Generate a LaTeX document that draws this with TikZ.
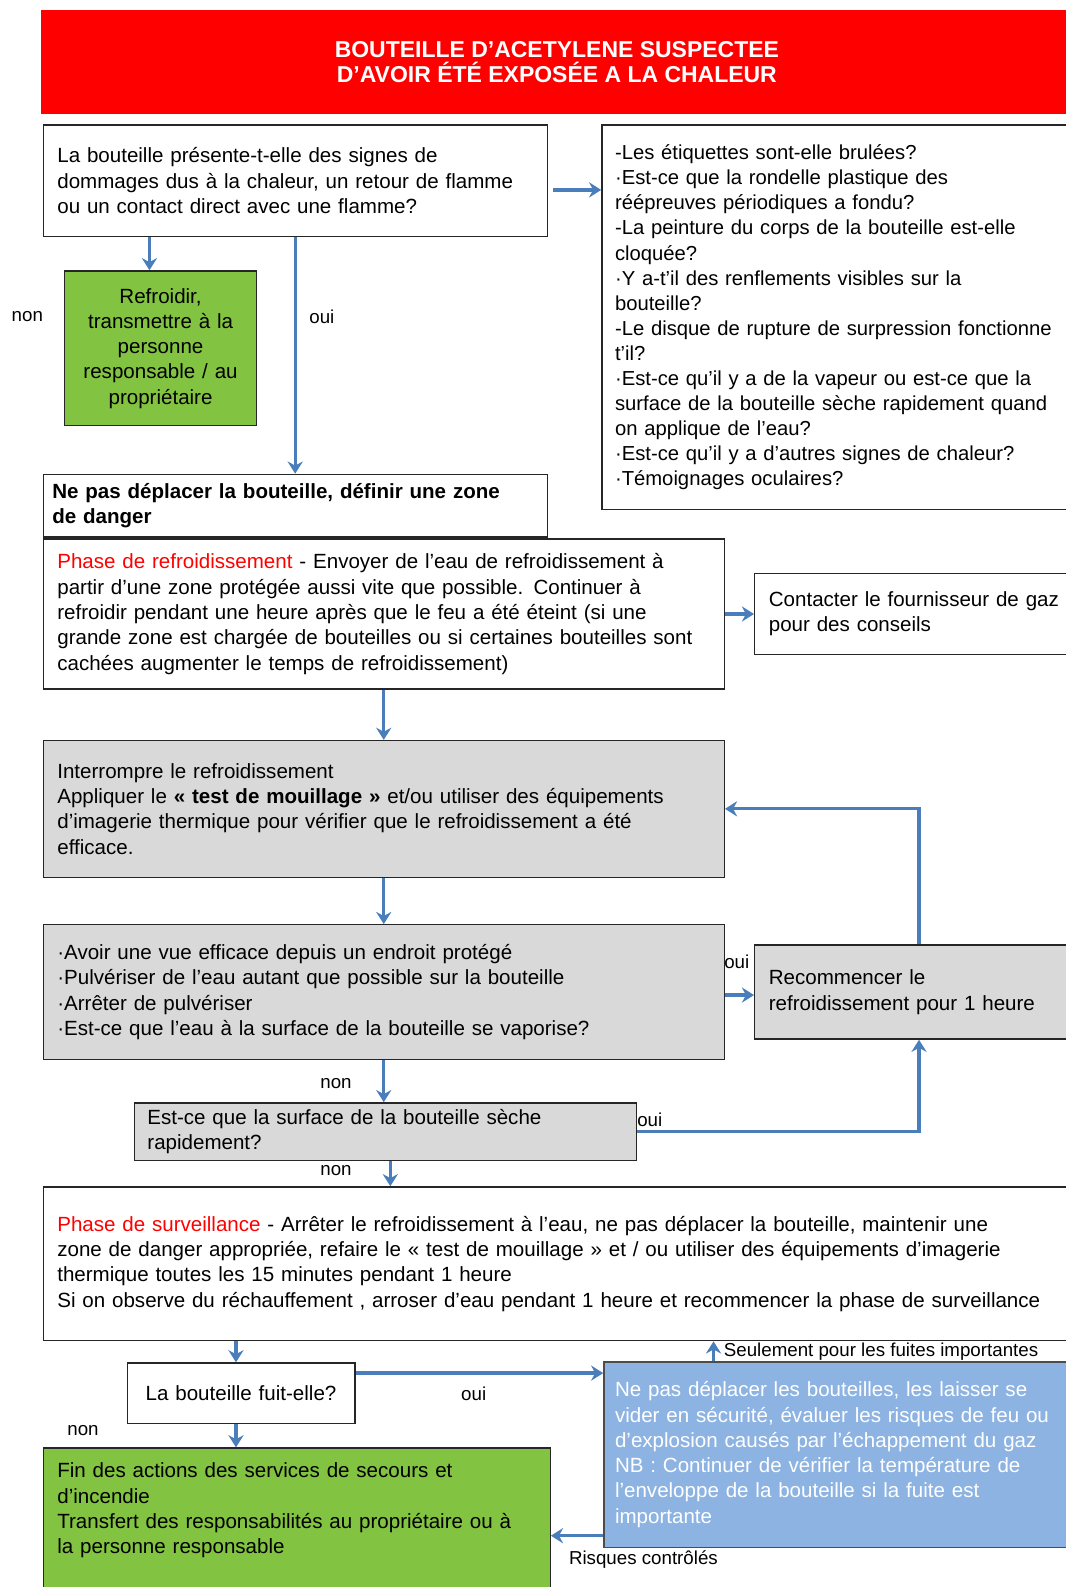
\documentclass[tikz,border=0pt]{standalone}
\usepackage{fontspec}
\setmainfont{Liberation Sans}
\usepackage{xcolor}
\usepackage{tikz}
\usetikzlibrary{arrows.meta}

\definecolor{titlered}{HTML}{FF0000}
\definecolor{boxgreen}{HTML}{82C341}
\definecolor{boxgrey}{HTML}{D9D9D9}
\definecolor{boxblue}{HTML}{8DB3E2}
\definecolor{arrowblue}{HTML}{4A7EBB}

\tikzset{
  flowbox/.style={draw=black!85, line width=1.3pt, fill=white, anchor=north west,
    align=left, inner xsep=14pt, inner ysep=0pt, font=\fontsize{20.3}{25}\selectfont},
  greybox/.style={flowbox, fill=boxgrey},
  greenbox/.style={flowbox, fill=boxgreen},
  bluebox/.style={flowbox, fill=boxblue, draw=black!70, text=white},
  titlebox/.style={fill=titlered, anchor=north west, align=center, text=white,
    font=\fontsize{22.7}{25}\selectfont\bfseries},
  flow/.style={draw=arrowblue, line width=3.2pt, -{Stealth[length=12pt,width=15pt,inset=4pt]}},
  lbl/.style={font=\fontsize{18.5}{20}\selectfont, inner sep=0pt}
}

\begin{document}
\begin{tikzpicture}[x=1pt, y=-1pt]
        \useasboundingbox (0,0) rectangle (1053,1568);

        % Title
        \node[titlebox, minimum width=1020pt, minimum height=102pt] (title) at (40,10)
          {BOUTEILLE D'ACETYLENE SUSPECTEE\\D'AVOIR ÉTÉ EXPOSÉE A LA CHALEUR};

        % First question and checks
        \node[flowbox, minimum width=498pt, minimum height=110pt, text width=470pt] (question) at (42,123)
          {La bouteille présente-t-elle des signes de\\dommages dus à la chaleur, un retour de flamme\\ou un contact direct avec une flamme?};
        \node[flowbox, minimum width=464pt, minimum height=380pt, text width=450pt,
          inner xsep=13pt, font=\fontsize{20}{24.8}\selectfont] (checks) at (594,123)
          {-Les étiquettes sont-elle brulées?\\·Est-ce que la rondelle plastique des\\réépreuves périodiques a fondu?\\-La peinture du corps de la bouteille est-elle\\cloquée?\\·Y a-t'il des renflements visibles sur la\\bouteille?\\-Le disque de rupture de surpression fonctionne\\t'il?\\·Est-ce qu'il y a de la vapeur ou est-ce que la\\surface de la bouteille sèche rapidement quand\\on applique de l'eau?\\·Est-ce qu'il y a d'autres signes de chaleur?\\·Témoignages oculaires?};
        \node[greenbox, minimum width=190pt, minimum height=153pt, text width=170pt,
          inner xsep=10pt, align=center] (cool) at (63,267)
          {Refroidir,\\transmettre à la\\personne\\responsable / au\\propriétaire};

        % Danger zone and cooling phase
        \node[flowbox, minimum width=498pt, minimum height=62pt, text width=480pt,
          inner xsep=9pt, font=\fontsize{20.3}{25}\selectfont\bfseries] (nomove) at (42,468)
          {Ne pas  déplacer la bouteille, définir une zone\\de danger};
        \node[flowbox, minimum width=673pt, minimum height=148pt, text width=645pt] (cooling) at (42,532)
          {\textcolor{red}{Phase de refroidissement} - Envoyer de l'eau de refroidissement à\\partir d'une zone protégée aussi vite que possible. Continuer à\\refroidir pendant une heure après que le feu a été éteint (si une\\grande zone est chargée de bouteilles ou si certaines bouteilles sont\\cachées augmenter le temps de refroidissement)};
        \node[flowbox, minimum width=330pt, minimum height=80pt, text width=302pt] (supplier) at (745,566)
          {Contacter le fournisseur de gaz\\pour des conseils};

        % Wetting test loop
        \node[greybox, minimum width=673pt, minimum height=135pt, text width=645pt] (wettest) at (42,731)
          {Interrompre le refroidissement\\Appliquer le \textbf{« test de mouillage »} et/ou utiliser des équipements\\d'imagerie thermique pour vérifier que le refroidissement a été\\efficace.};
        \node[greybox, minimum width=673pt, minimum height=133pt, text width=645pt] (spray) at (42,913)
          {·Avoir une vue efficace depuis un endroit protégé\\·Pulvériser de l'eau autant que possible sur la bouteille\\·Arrêter de pulvériser\\·Est-ce que l'eau à la surface de la bouteille se vaporise?};
        \node[greybox, minimum width=330pt, minimum height=93pt, text width=302pt] (restart) at (745,933)
          {Recommencer le\\refroidissement pour 1 heure};
        \node[greybox, minimum width=496pt, minimum height=57pt, text width=470pt,
          inner xsep=13pt] (dries) at (132,1089)
          {Est-ce que la surface de la bouteille sèche\\rapidement?};

        % Monitoring phase
        \node[flowbox, minimum width=1011pt, minimum height=152pt, text width=983pt] (monitor) at (42,1172)
          {\textcolor{red}{Phase de surveillance} - Arrêter le refroidissement à l'eau, ne pas déplacer la bouteille, maintenir une\\zone de danger appropriée, refaire le « test de mouillage » et / ou utiliser des équipements d'imagerie\\thermique toutes les 15 minutes pendant 1 heure\\Si on observe du réchauffement , arroser d'eau pendant 1 heure et recommencer la phase de surveillance};
        \node[flowbox, minimum width=225pt, minimum height=60pt, text width=205pt,
          inner xsep=10pt, align=center] (leak) at (125,1346)
          {La bouteille fuit-elle?};
        \node[bluebox, minimum width=470pt, minimum height=183pt, text width=448pt,
          inner xsep=11pt] (vent) at (596,1345)
          {Ne pas déplacer les bouteilles, les laisser se\\vider en sécurité, évaluer les risques de feu ou\\d'explosion causés par l'échappement du gaz\\NB : Continuer de vérifier la température de\\l'enveloppe de la bouteille si la fuite est\\importante};
        \node[greenbox, minimum width=501pt, minimum height=150pt, text width=473pt] (finish) at (42,1430)
          {Fin des actions des services de secours et\\d'incendie\\Transfert des responsabilités au propriétaire ou à\\la personne responsable\\[6pt]\mbox{}};

        % Connectors
        \draw[flow, shorten <=5pt] ([yshift=-9pt]question.east) -- ([yshift=-9pt]question.east -| checks.west);
        \draw[flow] ([xshift=-11pt]cool.north |- question.south) -- ([xshift=-11pt]cool.north);
        \draw[flow] (question.south) -- (nomove.north);
        \draw[flow] (cooling.east) -- (cooling.east -| supplier.west);
        \draw[flow] (cooling.south) -- (wettest.north);
        \draw[flow] (wettest.south) -- (spray.north);
        \draw[flow] ([yshift=-3pt]spray.east) -- ([yshift=-3pt]spray.east -| restart.west);
        \draw[flow] ([xshift=163pt]restart.north west) |- (wettest.east);
        \draw[flow] (spray.south) -- (spray.south |- dries.north);
        \draw[flow] (dries.east) -| ([xshift=163pt]restart.south west);
        \draw[flow] ([xshift=5pt]dries.south) -- ([xshift=5pt]dries.south |- monitor.north);
        \draw[flow] ([xshift=-5pt]leak.north |- monitor.south) -- ([xshift=-5pt]leak.north);
        \draw[flow] ([yshift=20pt]leak.east) -- ([yshift=20pt]leak.east -| vent.west);
        \draw[flow] ([xshift=109pt]vent.north west) -- ([xshift=109pt]vent.north west |- monitor.south);
        \draw[flow] ([yshift=12pt]vent.south west) -- ([yshift=12pt]vent.south west -| finish.east);
        \draw[flow] ([xshift=-5pt]leak.south) -- ([xshift=-5pt]leak.south |- finish.north);

        % Labels
        \node[lbl] (non1) at (27,313) {non};
        \node[lbl] (oui1) at (318,313) {oui};
        \node[lbl] (oui2) at (728,950) {oui};
        \node[lbl] (non2) at (332,1071) {non};
        \node[lbl] (oui3) at (642,1106) {oui};
        \node[lbl] (non3) at (332,1157) {non};
        \node[lbl] (oui4) at (468,1377) {oui};
        \node[lbl] (non4) at (82,1413) {non};
        \node[lbl, anchor=west] (bigleak) at (715,1335) {Seulement pour les fuites importantes};
        \node[lbl, anchor=west] (safe) at (562,1541) {Risques contrôlés};
    \end{tikzpicture}
\end{document}
